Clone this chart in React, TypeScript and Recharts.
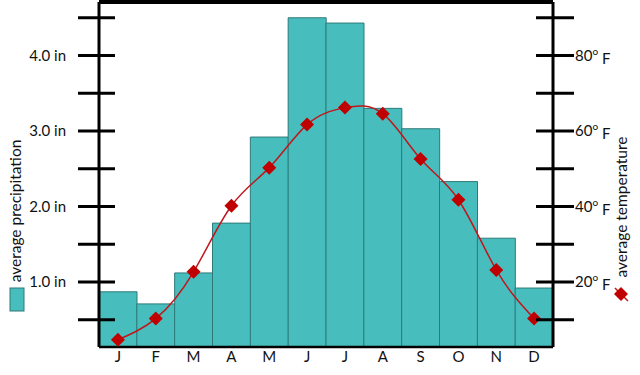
import { ComposedChart, Bar, Line, XAxis, YAxis, ReferenceLine } from "recharts";

const months = ["Jan", "Feb", "Mar", "Apr", "May", "Jun", "Jul", "Aug", "Sep", "Oct", "Nov", "Dec"];
const monthLabels = ["J", "F", "M", "A", "M", "J", "J", "A", "S", "O", "N", "D"];
const precipitation = [0.87, 0.71, 1.12, 1.78, 2.92, 4.5, 4.43, 3.3, 3.03, 2.33, 1.58, 0.92];
const temperature = [4.7, 10.3, 22.7, 40.2, 50.3, 61.7, 66.2, 64.6, 52.6, 41.8, 23.2, 10.3];
const precipTicks = [0.5, 1, 1.5, 2, 2.5, 3, 3.5, 4, 4.5];
const precipLabels = [1, 2, 3, 4];
const tempTicks = [10, 20, 30, 40, 50, 60, 70, 80, 90];
const tempLabels = [20, 40, 60, 80];

const data = months.map((m, i) => ({
  month: m,
  precip: precipitation[i],
  temp: temperature[i],
}));

const FONT = "Lato, 'Open Sans', sans-serif";
const TEXT = "#111";
const TEAL = "#47bebd";
const TEAL_EDGE = "#2d7a79";
const RED = "#c00000";

function LeftTick(props: any) {
  const { x, y, payload } = props;
  const v = payload.value;
  return (
    <g>
      <line x1={x - 21} x2={x + 16} y1={y} y2={y} stroke="#000" strokeWidth={3} />
      {precipLabels.includes(v) && (
        <text x={x - 33} y={y} dy="0.35em" textAnchor="end" fontSize={15} fontFamily={FONT} fill={TEXT}>
          {v.toFixed(1)} in
        </text>
      )}
    </g>
  );
}

function RightTick(props: any) {
  const { x, y, payload } = props;
  const v = payload.value;
  return (
    <g>
      <line x1={x - 17} x2={x + 21} y1={y} y2={y} stroke="#000" strokeWidth={3} />
      {tempLabels.includes(v) && (
        <text x={x + 22} y={y} dy="0.35em" textAnchor="start" fontSize={15} fontFamily={FONT} fill={TEXT}>
          {v}
          <tspan fontSize={10} dy="-0.6em">o</tspan>
          <tspan dy="0.6em"> F</tspan>
        </text>
      )}
    </g>
  );
}

function MonthTick(props: any) {
  const { x, y, payload } = props;
  return (
    <text x={x} y={y + 10} dy="0.35em" textAnchor="middle" fontSize={15} fontFamily={FONT} fill={TEXT}>
      {monthLabels[payload.index]}
    </text>
  );
}

function Diamond(props: any) {
  const { cx, cy } = props;
  if (cx == null || cy == null) return null;
  const r = 7;
  return (
    <polygon
      points={`${cx},${cy - r} ${cx + r},${cy} ${cx},${cy + r} ${cx - r},${cy}`}
      fill={RED}
    />
  );
}

export default function App() {
  return (
    <div style={{ position: "absolute", left: 0, top: 0, width: 640, height: 375 }}>
      <ComposedChart
        width={640}
        height={375}
        data={data}
        margin={{ top: 2, right: 0, bottom: 0, left: 0 }}
        barCategoryGap={0}
        barGap={0}
      >
        <Bar
          yAxisId="left"
          dataKey="precip"
          fill={TEAL}
          stroke={TEAL_EDGE}
          strokeWidth={1}
          isAnimationActive={false}
        />
        <Line
          yAxisId="right"
          dataKey="temp"
          type="natural"
          stroke="#c0161c"
          strokeWidth={1.5}
          dot={<Diamond />}
          activeDot={false}
          isAnimationActive={false}
        />
        <ReferenceLine yAxisId="left" y={4.709} stroke="#000" strokeWidth={4} />
        <XAxis
          dataKey="month"
          height={28}
          axisLine={{ stroke: "#000", strokeWidth: 2.5 }}
          tickLine={false}
          tickSize={0}
          tickMargin={0}
          tick={<MonthTick />}
          interval={0}
        />
        <YAxis
          yAxisId="left"
          orientation="left"
          width={99}
          domain={[0.139, 4.709]}
          ticks={precipTicks}
          axisLine={{ stroke: "#000", strokeWidth: 3 }}
          tickLine={false}
          tickSize={0}
          tickMargin={0}
          tick={<LeftTick />}
          interval={0}
        />
        <YAxis
          yAxisId="right"
          orientation="right"
          width={87}
          domain={[2.78, 94.18]}
          ticks={tempTicks}
          axisLine={{ stroke: "#000", strokeWidth: 3 }}
          tickLine={false}
          tickSize={0}
          tickMargin={0}
          tick={<RightTick />}
          interval={0}
        />
      </ComposedChart>
      <svg
        width={640}
        height={375}
        style={{ position: "absolute", left: 0, top: 0, pointerEvents: "none" }}
      >
        <text
          transform="translate(16,211) rotate(-90)"
          textAnchor="middle"
          dy="0.35em"
          fontSize={15.5}
          fontFamily={FONT}
          fill={TEXT}
        >
          average precipitation
        </text>
        <rect x={10} y={288} width={14} height={23} fill={TEAL} stroke={TEAL_EDGE} strokeWidth={1} />
        <text
          transform="translate(622,207) rotate(-90)"
          textAnchor="middle"
          dy="0.35em"
          fontSize={15.5}
          fontFamily={FONT}
          fill={TEXT}
        >
          average temperature
        </text>
        <line x1={615} y1={288} x2={628} y2={301} stroke="#c0161c" strokeWidth={1.5} />
        <polygon points="621,287 628,294 621,301 614,294" fill={RED} />
      </svg>
    </div>
  );
}
